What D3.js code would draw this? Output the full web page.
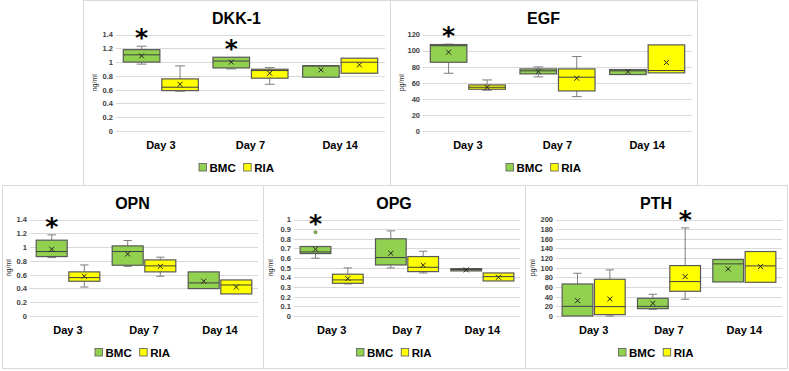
<!DOCTYPE html>
<html>
<head>
<meta charset="utf-8">
<script src="https://cdn.jsdelivr.net/npm/d3@7"></script>
<style>
  body { margin: 0; background: #fff; }
  svg { display: block; font-family: "Liberation Sans", Arial, sans-serif; }
</style>
</head>
<body>
<div id="chart"></div>
<script>
// categories and groups
const days = ["Day 3", "Day 7", "Day 14"];
const groups = ["BMC", "RIA"];
const charts = ["DKK-1", "EGF", "OPN", "OPG", "PTH"];
const units = ["ng/ml", "pg/ml", "ng/ml", "ng/ml", "pg/ml"];
const yMax = [1.4, 120, 1.4, 1, 200];
const yStep = [0.2, 20, 0.2, 0.1, 20];

// box stats per day: [min, q1, median, q3, max, mean]
const dkkBMC = [[0.97, 1.0, 1.105, 1.18, 1.23, 1.09], [0.90, 0.915, 1.015, 1.07, 1.07, 1.0], [0.78, 0.78, 0.945, 0.945, 0.945, 0.887]];
const dkkRIA = [[0.577, 0.586, 0.635, 0.756, 0.945, 0.678], [0.678, 0.766, 0.877, 0.896, 0.92, 0.838], [0.838, 0.838, 0.998, 1.056, 1.056, 0.96]];
const egfBMC = [[71.8, 85.5, 106, 107.5, 108, 98], [67.3, 71, 74.8, 77.2, 79.7, 73.9], [70.2, 70.2, 74.8, 76.4, 76.4, 73.9]];
const egfRIA = [[50.7, 51.9, 54.4, 57.3, 63.5, 54.4], [42.8, 49.8, 66.9, 77.2, 92.6, 65.6], [72.3, 72.3, 75.2, 107.1, 107.1, 85.1]];
const opnBMC = [[0.848, 0.862, 0.935, 1.10, 1.177, 0.969], [0.72, 0.736, 0.935, 1.017, 1.095, 0.90], [0.397, 0.397, 0.48, 0.64, 0.64, 0.504]];
const opnRIA = [[0.42, 0.504, 0.557, 0.64, 0.741, 0.577], [0.577, 0.64, 0.727, 0.814, 0.853, 0.72], [0.32, 0.32, 0.45, 0.523, 0.523, 0.42]];
const opgBMC = [[0.599, 0.647, 0.664, 0.72, 0.72, 0.692], [0.498, 0.529, 0.606, 0.8, 0.882, 0.65], [0.467, 0.467, 0.481, 0.491, 0.491, 0.478]];
const opgRIA = [[0.332, 0.339, 0.374, 0.433, 0.498, 0.388], [0.446, 0.46, 0.505, 0.616, 0.671, 0.526], [0.363, 0.363, 0.408, 0.446, 0.446, 0.401]];
const pthBMC = [[0, 0, 20, 66.4, 88.6, 31.8], [13.8, 15.2, 20, 36.7, 45, 26.3], [70.6, 70.6, 108, 117, 117, 97.6]];
const pthRIA = [[0, 2.8, 19.4, 76.1, 95.5, 35.3], [34.6, 51.2, 71.3, 104.5, 182.7, 81.7], [69.9, 69.9, 103.8, 133.6, 133.6, 102.4]];

const bmcStats = [dkkBMC, egfBMC, opnBMC, opgBMC, pthBMC];
const riaStats = [dkkRIA, egfRIA, opnRIA, opgRIA, pthRIA];

// outliers: [chart, day, group, value]
const outliers = [["OPG", "Day 3", "BMC", 0.868]];
// significance stars: [chart, day, group]
const stars = [["DKK-1", "Day 3", "BMC"], ["DKK-1", "Day 7", "BMC"], ["EGF", "Day 3", "BMC"],
               ["OPN", "Day 3", "BMC"], ["OPG", "Day 3", "BMC"], ["PTH", "Day 7", "RIA"]];

const colors = {BMC: "#92d050", RIA: "#ffff00"};

// panel frames (x0, x1, y0, y1, left inset of plot area)
const frames = [
    {x0: 83, x1: 390, y0: 0, y1: 185, left: 33, ylab: 12},
    {x0: 390, x1: 697, y0: 0, y1: 185, left: 33, ylab: 12},
    {x0: 2, x1: 263, y0: 185, y1: 368, left: 28, ylab: 7},
    {x0: 263, x1: 525, y0: 185, y1: 368, left: 31, ylab: 8},
    {x0: 525, x1: 787, y0: 185, y1: 368, left: 31, ylab: 8}
];

const svg = d3.select("#chart").append("svg")
    .attr("width", 789)
    .attr("height", 371);

charts.forEach((name, i) => drawPanel(name, i));

function drawPanel(name, i) {
    let f = frames[i];
    let g = svg.append("g");

    // frame
    g.append("rect")
        .attr("x", f.x0 + 0.5).attr("y", f.y0 + 0.5)
        .attr("width", f.x1 - f.x0).attr("height", f.y1 - f.y0)
        .attr("fill", "none").attr("stroke", "#d9d9d9");

    let top = f.y0 + 34.5, bottom = f.y0 + 131;
    let left = f.x0 + f.left, right = f.x1 - 5;

    let y = d3.scaleLinear().domain([0, yMax[i]]).range([bottom, top]);
    let x = d3.scaleBand().domain(days).range([left, right]);
    let xg = d3.scaleBand().domain(groups).range([0, x.bandwidth()])
        .paddingInner(0.05).paddingOuter(0.19);

    let ticks = d3.range(0, yMax[i] + yStep[i] / 2, yStep[i]).map(d => +d.toFixed(3));

    // gridlines
    g.selectAll(".grid").data(ticks).enter().append("line")
        .attr("x1", left).attr("x2", right)
        .attr("y1", d => Math.round(y(d)) + 0.5).attr("y2", d => Math.round(y(d)) + 0.5)
        .attr("stroke", "#d9d9d9").attr("stroke-width", 1);

    // y axis labels
    let yAxis = d3.axisLeft(y).tickValues(ticks).tickSize(0).tickPadding(3)
        .tickFormat(d => String(+d.toFixed(3)));
    let ya = g.append("g").attr("transform", "translate(" + left + ",0)").call(yAxis);
    ya.select(".domain").remove();
    ya.selectAll("text")
        .attr("fill", "#404040")
        .style("font-size", "7.5px")
        .style("font-weight", "bold")
        .style("font-family", "Liberation Sans, Arial, sans-serif");

    // y axis title
    g.append("text")
        .attr("transform", "translate(" + (f.x0 + f.ylab) + "," + ((top + bottom) / 2) + ") rotate(-90)")
        .attr("text-anchor", "middle")
        .attr("dy", "0.35em")
        .attr("fill", "#262626")
        .style("font-size", "7px")
        .text(units[i]);

    // title
    g.append("text")
        .attr("x", (f.x0 + f.x1) / 2).attr("y", f.y0 + 18)
        .attr("text-anchor", "middle").attr("dy", "0.35em")
        .attr("fill", "#000")
        .style("font-size", "16px").style("font-weight", "bold")
        .text(name);

    // category labels
    g.selectAll(".cat").data(days).enter().append("text")
        .attr("x", d => x(d) + x.bandwidth() / 2)
        .attr("y", f.y0 + 145.5)
        .attr("text-anchor", "middle").attr("dy", "0.35em")
        .attr("fill", "#000")
        .style("font-size", "11px").style("font-weight", "bold")
        .text(d => d);

    // boxes
    let statsList = [bmcStats[i], riaStats[i]];
    groups.forEach((grp, gi) => {
        days.forEach((day, di) => {
            let s = statsList[gi][di];
            let bx = x(day) + xg(grp);
            let bw = xg.bandwidth();
            let cx = bx + bw / 2;
            let cap = bw * 0.27;

            // whiskers
            [[s[0], s[1]], [s[4], s[3]]].forEach(w => {
                if (Math.abs(w[0] - w[1]) < 1e-9) return;
                g.append("line")
                    .attr("x1", cx).attr("x2", cx)
                    .attr("y1", y(w[0])).attr("y2", y(w[1]))
                    .attr("stroke", "#7f7f7f").attr("stroke-width", 1);
                g.append("line")
                    .attr("x1", cx - cap / 2).attr("x2", cx + cap / 2)
                    .attr("y1", y(w[0])).attr("y2", y(w[0]))
                    .attr("stroke", "#7f7f7f").attr("stroke-width", 1);
            });

            // box
            g.append("rect")
                .attr("x", bx).attr("y", y(s[3]))
                .attr("width", bw).attr("height", Math.max(1, y(s[1]) - y(s[3])))
                .attr("fill", colors[grp])
                .attr("stroke", "#595959").attr("stroke-width", 1.2);

            // median
            g.append("line")
                .attr("x1", bx).attr("x2", bx + bw)
                .attr("y1", y(s[2])).attr("y2", y(s[2]))
                .attr("stroke", "#404040").attr("stroke-width", 1);

            // mean marker
            let my = y(s[5]), m = 2.5;
            g.append("path")
                .attr("d", "M" + (cx - m) + "," + (my - m) + "L" + (cx + m) + "," + (my + m) +
                           "M" + (cx - m) + "," + (my + m) + "L" + (cx + m) + "," + (my - m))
                .attr("stroke", "#262626").attr("stroke-width", 1).attr("fill", "none");
        });
    });

    // outliers
    outliers.filter(o => o[0] === name).forEach(o => {
        g.append("circle")
            .attr("cx", x(o[1]) + xg(o[2]) + xg.bandwidth() / 2)
            .attr("cy", y(o[3])).attr("r", 1.5)
            .attr("fill", colors[o[2]]).attr("stroke", "#4f6228").attr("stroke-width", 0.8);
    });

    // stars
    stars.filter(s => s[0] === name).forEach(s => {
        let gi = groups.indexOf(s[2]);
        let di = days.indexOf(s[1]);
        let hi = statsList[gi][di][4];
        outliers.filter(o => o[0] === name && o[1] === s[1] && o[2] === s[2])
            .forEach(o => { hi = Math.max(hi, o[3]); });
        g.append("text")
            .attr("x", x(s[1]) + xg(s[2]) + xg.bandwidth() / 2)
            .attr("y", y(hi) + 0)
            .attr("text-anchor", "middle")
            .attr("fill", "#000")
            .style("font-size", "25px").style("font-weight", "bold")
            .style("font-family", "DejaVu Sans, sans-serif")
            .text("*");
    });

    // legend
    let lg = g.append("g");
    let cxp = 0;
    groups.forEach((grp, gi) => {
        lg.append("rect")
            .attr("x", cxp).attr("y", -4)
            .attr("width", 7.5).attr("height", 7.5)
            .attr("fill", colors[grp]).attr("stroke", "#595959").attr("stroke-width", 0.8);
        let t = lg.append("text")
            .attr("x", cxp + 10.5).attr("y", 0).attr("dy", "0.35em")
            .attr("fill", "#000")
            .style("font-size", "11.5px").style("font-weight", "bold")
            .text(grp);
        cxp += 10.5 + t.node().getComputedTextLength() + 8;
    });
    let lw = cxp - 8;
    lg.attr("transform", "translate(" + ((f.x0 + f.x1) / 2 - lw / 2) + "," + (f.y0 + 167.5) + ")");
}
</script>
</body>
</html>
